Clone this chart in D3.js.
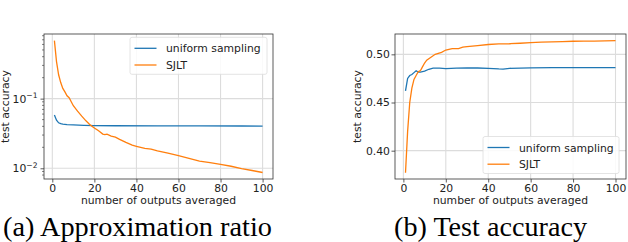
<!DOCTYPE html>
<html>
<head>
<meta charset="utf-8">
<script src="https://cdn.jsdelivr.net/npm/d3@7"></script>
<style>
  body { margin: 0; background: #fff; }
  svg { display: block; font-family: 'DejaVu Sans', sans-serif; }
  .caption { font-family: 'Liberation Serif', 'Times New Roman', serif; }
</style>
</head>
<body>
<svg></svg>
<script>
// data
let seriesNames = ['uniform sampling', 'SJLT'];
let colors = ['#1f77b4', '#ff7f0e'];

// (a) approximation ratio, log scale
let ratioUniformX = [1, 2, 3, 4, 5, 7, 10, 15, 20, 30, 50, 70, 90, 100];
let ratioUniformY = [0.058, 0.049, 0.045, 0.0437, 0.0431, 0.0424, 0.042, 0.0414, 0.0411, 0.0408, 0.0406, 0.0406, 0.0405, 0.0404];
let ratioSjltX = [1, 2, 3, 4, 5, 6, 7, 8, 9, 10, 12, 14, 16, 18, 20, 22, 24, 25, 26, 28, 30, 32, 35, 38, 40, 44, 47, 50, 55, 60, 65, 70, 75, 80, 85, 90, 95, 100];
let ratioSjltY = [0.68, 0.34, 0.22, 0.17, 0.14, 0.125, 0.11, 0.103, 0.09, 0.079, 0.066, 0.056, 0.048, 0.042, 0.038, 0.0345, 0.031, 0.0305, 0.031, 0.029, 0.028, 0.026, 0.0235, 0.0215, 0.0207, 0.0193, 0.0188, 0.0178, 0.0165, 0.0152, 0.0139, 0.0127, 0.0121, 0.0114, 0.0107, 0.0099, 0.0093, 0.0087];

// (b) test accuracy
let accUniformX = [1, 2, 3, 4, 5, 6, 7, 8, 9, 10, 12, 14, 17, 20, 25, 30, 35, 40, 45, 47, 50, 60, 70, 80, 90, 100];
let accUniformY = [0.462, 0.475, 0.478, 0.479, 0.481, 0.483, 0.4815, 0.4815, 0.482, 0.4825, 0.4845, 0.4857, 0.4856, 0.4852, 0.4857, 0.4858, 0.4858, 0.4855, 0.4848, 0.4847, 0.4855, 0.486, 0.4862, 0.4862, 0.4863, 0.4862];
let accSjltX = [1, 2, 3, 4, 5, 6, 7, 8, 9, 10, 11, 13, 15, 18, 20, 23, 26, 28, 30, 35, 40, 45, 50, 55, 60, 65, 70, 75, 80, 85, 90, 95, 100];
let accSjltY = [0.377, 0.42, 0.45, 0.465, 0.474, 0.478, 0.482, 0.483, 0.487, 0.491, 0.494, 0.497, 0.5, 0.502, 0.5045, 0.506, 0.506, 0.5075, 0.508, 0.509, 0.5102, 0.5108, 0.511, 0.5115, 0.5122, 0.5127, 0.513, 0.5132, 0.5136, 0.5138, 0.5138, 0.514, 0.5142];

let xTicks = [0, 20, 40, 60, 80, 100];
let ratioTicks = [0.1, 0.01];
let accTicks = [0.40, 0.45, 0.50];

let fontSize = '10.8px';
let svg = d3.select('svg').attr('width', 628).attr('height', 242);

function translate(x, y) {
  return 'translate(' + x + ',' + y + ')';
}

function zip(xs, ys) {
  return xs.map((x, i) => ({x: x, y: ys[i]}));
}

function drawPanel(cfg) {
  let g = svg.append('g').attr('transform', translate(cfg.left, cfg.top));
  let w = cfg.width, h = cfg.height;

  let x = d3.scaleLinear().domain([-3.95, 104.95]).range([0, w]);
  let y = cfg.log ? d3.scaleLog() : d3.scaleLinear();
  y.domain(cfg.yDomain).range([h, 0]);

  // grid
  g.append('g').selectAll('line').data(xTicks).enter().append('line')
    .attr('x1', d => x(d)).attr('x2', d => x(d))
    .attr('y1', 0).attr('y2', h)
    .attr('stroke', '#dcdcdc').attr('stroke-width', 1.1);
  g.append('g').selectAll('line').data(cfg.yTicks).enter().append('line')
    .attr('y1', d => y(d)).attr('y2', d => y(d))
    .attr('x1', 0).attr('x2', w)
    .attr('stroke', '#dcdcdc').attr('stroke-width', 1.1);

  // lines
  let line = d3.line().x(d => x(d.x)).y(d => y(d.y));
  cfg.series.forEach(function(s, i) {
    g.append('path').datum(s)
      .attr('fill', 'none')
      .attr('stroke', colors[i])
      .attr('stroke-width', 1.3)
      .attr('d', line);
  });

  // axes
  let ax = d3.axisBottom(x).tickValues(xTicks).tickSize(3.5).tickPadding(2).tickFormat(d3.format('d'));
  let gx = g.append('g').attr('transform', translate(0, h)).call(ax);
  let ay = d3.axisLeft(y).tickValues(cfg.yTicks).tickSize(3.5).tickPadding(1.5);
  if (cfg.log) ay.tickFormat(() => '');
  else ay.tickFormat(d3.format('.2f'));
  let gy = g.append('g').call(ay);
  [gx, gy].forEach(function(a) {
    a.select('.domain').remove();
    a.selectAll('line').attr('stroke', '#333').attr('stroke-width', 0.8);
    a.selectAll('text').attr('fill', '#222').style('font-size', fontSize).style('font-family', 'DejaVu Sans');
  });

  if (cfg.log) {
    // minor ticks
    let minor = [];
    [0.001, 0.01, 0.1].forEach(function(b) {
      for (let k = 2; k <= 9; k++) {
        let v = b * k;
        if (v > cfg.yDomain[0] && v < cfg.yDomain[1]) minor.push(v);
      }
    });
    g.append('g').selectAll('line').data(minor).enter().append('line')
      .attr('x1', -2).attr('x2', 0)
      .attr('y1', d => y(d)).attr('y2', d => y(d))
      .attr('stroke', '#333').attr('stroke-width', 0.6);
    // power labels
    let lab = g.append('g').selectAll('text').data(cfg.yTicks).enter().append('text')
      .attr('x', -6.5).attr('y', d => y(d) + 4)
      .attr('text-anchor', 'end')
      .attr('fill', '#222')
      .style('font-size', fontSize);
    lab.append('tspan').text('10');
    lab.append('tspan').attr('dy', -4.5).style('font-size', '7.6px').text(d => '\u2212' + Math.round(-Math.log10(d)));
  }

  // frame
  g.append('rect').attr('width', w).attr('height', h)
    .attr('fill', 'none').attr('stroke', '#333').attr('stroke-width', 0.8);

  // labels
  g.append('text').attr('x', w / 2).attr('y', h + 25)
    .attr('text-anchor', 'middle').attr('fill', '#222').style('font-size', fontSize)
    .text('number of outputs averaged');
  g.append('text')
    .attr('transform', translate(cfg.ylabelX, h / 2) + ' rotate(-90)')
    .attr('text-anchor', 'middle').attr('fill', '#222').style('font-size', fontSize)
    .text('test accuracy');

  // legend
  let lg = g.append('g').attr('transform', translate(cfg.legend[0], cfg.legend[1]));
  lg.append('rect').attr('width', cfg.legend[2]).attr('height', 37).attr('rx', 2)
    .attr('fill', '#fff').attr('fill-opacity', 0.85)
    .attr('stroke', '#ddd').attr('stroke-width', 0.8);
  seriesNames.forEach(function(n, i) {
    let yy = 11 + i * 16.7;
    lg.append('line').attr('x1', 4.5).attr('x2', 26.5).attr('y1', yy).attr('y2', yy)
      .attr('stroke', colors[i]).attr('stroke-width', 1.3);
    lg.append('text').attr('x', 36).attr('y', yy + 4)
      .attr('fill', '#222').style('font-size', fontSize).text(n);
  });

  // caption, sized to span the same width as in the figure
  let cap = svg.append('text').attr('class', 'caption')
    .attr('x', cfg.captionX).attr('y', 236)
    .attr('text-anchor', 'middle').attr('fill', '#000')
    .style('font-size', '25px')
    .text(cfg.caption);
  let len = cap.node().getComputedTextLength();
  cap.style('font-size', (25 * cfg.captionWidth / len) + 'px');
}

drawPanel({
  left: 44, top: 34, width: 229, height: 145,
  log: true, yDomain: [0.00702, 0.847], yTicks: ratioTicks,
  series: [zip(ratioUniformX, ratioUniformY), zip(ratioSjltX, ratioSjltY)],
  ylabelX: -34.8, legend: [86, 3.3, 137],
  caption: '(a) Approximation ratio', captionX: 137.5, captionWidth: 269
});

drawPanel({
  left: 395, top: 34, width: 231, height: 145,
  log: false, yDomain: [0.3706, 0.5211], yTicks: accTicks,
  series: [zip(accUniformX, accUniformY), zip(accSjltX, accSjltY)],
  ylabelX: -34, legend: [88, 102.5, 136],
  caption: '(b) Test accuracy', captionX: 490.5, captionWidth: 193
});
</script>
</body>
</html>
